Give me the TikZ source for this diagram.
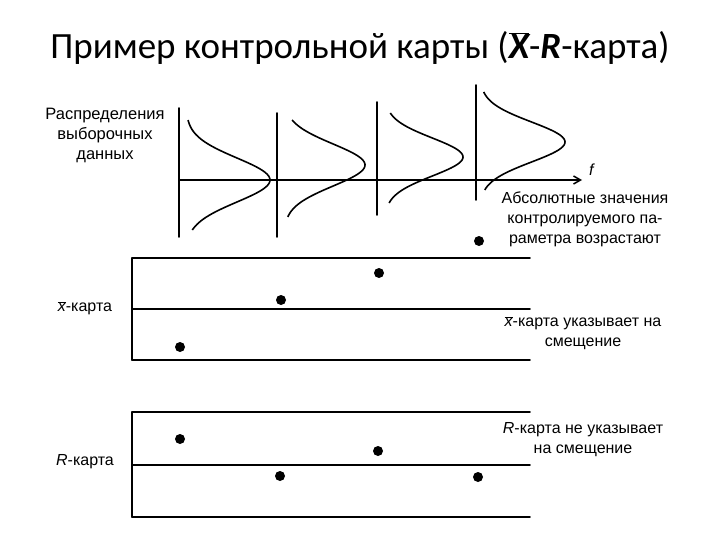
\documentclass[tikz,border=0pt]{standalone}
\usepackage{fontspec}
\setmainfont{Carlito}
\newfontfamily\lbl{Liberation Sans}
\usetikzlibrary{arrows.meta}
\begin{document}
\begin{tikzpicture}[x=1pt,y=-1pt,
  ln/.style={line width=1.6pt,line cap=round},
  curve/.style={line width=1.6pt},
  dot/.style={circle,fill=black,inner sep=0pt,minimum size=10pt},
  txt/.style={font=\lbl\fontsize{16}{20}\selectfont,align=center,inner sep=0pt}]
\useasboundingbox (0,0) rectangle (720,540);
\node[font=\fontsize{37}{42}\selectfont] (title) at (360,48) {Пример контрольной карты ($\overline{\mbox{\bfseries\itshape X}}$-\textbf{\textit{R}}-карта)};
% distributions
\coordinate (a0) at (179,180); \coordinate (a1) at (582,180);
\draw[line width=1.5pt,-{Straight Barb[length=7pt,width=8pt]}] (a0) -- (a1);
\node[txt] (f) at (592,170) {\textit{f}};
\draw[ln] (179,108) -- (179,237);
\draw[ln] (277,113) -- (277,237);
\draw[ln] (377,102) -- (377,215);
\draw[ln] (476,85) -- (476,200);
\draw[curve] plot[domain=120:230,samples=60,smooth] ({186+84*exp(-((\x-180)/22)^2/2)},\x);
\draw[curve] plot[domain=120:217,samples=60,smooth] ({284+81*exp(-((\x-165)/21)^2/2)},\x);
\draw[curve] plot[domain=113:203,samples=60,smooth] ({385+78*exp(-((\x-157)/19)^2/2)},\x);
\draw[curve] plot[domain=92:190,samples=60,smooth] ({480+85*exp(-((\x-142)/20)^2/2)},\x);
\node[txt,font=\lbl\fontsize{16.5}{20}\selectfont] (dist) at (105,135) {Распределения\\выборочных\\данных};
\node[txt] (abs) at (585,219) {Абсолютные значения\\контролируемого па-\\раметра возрастают};
\node[dot] (d0) at (479,241) {};
% x chart
\draw[ln] (132,258) -- (530,258);
\draw[ln] (132,309) -- (530,309);
\draw[ln] (132,360) -- (530,360);
\draw[ln] (132,258) -- (132,360);
\node[txt] (xl) at (85,308) {$\overline{\mbox{\itshape x}}$-карта};
\node[dot] (x1) at (180,347) {};
\node[dot] (x2) at (281,300) {};
\node[dot] (x3) at (379,273) {};
\node[txt] (xt) at (583,333) {$\overline{\mbox{\itshape x}}$-карта указывает на\\смещение};
% R chart
\draw[ln] (132,412) -- (530,412);
\draw[ln] (132,465) -- (530,465);
\draw[ln] (132,517) -- (530,517);
\draw[ln] (132,412) -- (132,517);
\node[txt] (rl) at (85,462) {\textit{R}-карта};
\node[dot] (r1) at (180,439) {};
\node[dot] (r2) at (280,476) {};
\node[dot] (r3) at (378,451) {};
\node[dot] (r4) at (478,477) {};
\node[txt] (rt) at (583,440) {\textit{R}-карта не указывает\\на смещение};
\end{tikzpicture}
\end{document}
